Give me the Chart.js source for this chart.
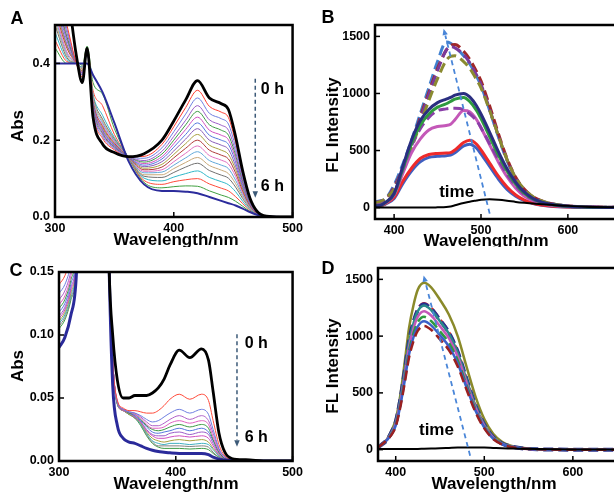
<!DOCTYPE html>
<html>
<head>
<meta charset="utf-8">
<script src="https://cdn.jsdelivr.net/npm/chart.js@4.4.0/dist/chart.umd.min.js"></script>
<style>
  body { margin: 0; width: 614px; height: 494px; overflow: hidden; background: #fff; position: relative; }
  canvas { position: absolute; }
</style>
</head>
<body>
<canvas id="chartA" width="307" height="247" style="left:0;top:0"></canvas>
<canvas id="chartB" width="330" height="247" style="left:307px;top:0"></canvas>
<canvas id="chartC" width="307" height="247" style="left:0;top:247px"></canvas>
<canvas id="chartD" width="330" height="247" style="left:307px;top:247px"></canvas>
<script>
const FONT = '"Liberation Sans", Arial, sans-serif';

// ---- Panel A : absorption, 0 h -> 6 h ----
const wlA = [300, 310, 318, 323, 327, 332, 340, 350, 362, 375, 390, 400, 410, 420, 430, 440, 446, 452, 458, 464, 470, 478, 490, 500];
const absA0h = [0.75, 0.6, 0.42, 0.35, 0.44, 0.26, 0.19, 0.168, 0.157, 0.165, 0.20, 0.25, 0.305, 0.355, 0.31, 0.295, 0.28, 0.21, 0.12, 0.05, 0.015, 0.002, 0, 0];
const absA6h = [0.40, 0.40, 0.40, 0.40, 0.40, 0.37, 0.325, 0.245, 0.145, 0.085, 0.068, 0.068, 0.066, 0.062, 0.052, 0.042, 0.036, 0.030, 0.022, 0.013, 0.006, 0.002, 0, 0];
const absAMid = [
    [0.62, 0.50, 0.40, 0.365, 0.435, 0.27, 0.205, 0.175, 0.157, 0.158, 0.189, 0.235, 0.285, 0.33, 0.288, 0.273, 0.259, 0.195, 0.112, 0.047, 0.014, 0.002, 0, 0],
    [0.61, 0.49, 0.40, 0.37, 0.43, 0.275, 0.21, 0.178, 0.157, 0.153, 0.180, 0.222, 0.268, 0.31, 0.270, 0.256, 0.242, 0.182, 0.105, 0.044, 0.014, 0.002, 0, 0],
    [0.60, 0.48, 0.40, 0.37, 0.43, 0.28, 0.215, 0.18, 0.157, 0.147, 0.171, 0.210, 0.252, 0.29, 0.253, 0.239, 0.226, 0.170, 0.098, 0.042, 0.013, 0.002, 0, 0],
    [0.59, 0.47, 0.40, 0.37, 0.43, 0.285, 0.218, 0.182, 0.157, 0.143, 0.164, 0.200, 0.240, 0.275, 0.240, 0.226, 0.213, 0.161, 0.093, 0.040, 0.013, 0.002, 0, 0],
    [0.58, 0.465, 0.40, 0.375, 0.43, 0.29, 0.222, 0.184, 0.157, 0.139, 0.157, 0.191, 0.228, 0.26, 0.226, 0.213, 0.201, 0.152, 0.088, 0.038, 0.012, 0.002, 0, 0],
    [0.57, 0.46, 0.40, 0.375, 0.43, 0.29, 0.225, 0.186, 0.156, 0.135, 0.151, 0.182, 0.215, 0.245, 0.213, 0.200, 0.189, 0.143, 0.083, 0.036, 0.012, 0.002, 0, 0],
    [0.56, 0.45, 0.40, 0.375, 0.43, 0.295, 0.228, 0.188, 0.156, 0.131, 0.144, 0.172, 0.203, 0.23, 0.200, 0.187, 0.176, 0.133, 0.078, 0.034, 0.011, 0.002, 0, 0],
    [0.55, 0.445, 0.40, 0.38, 0.43, 0.295, 0.232, 0.19, 0.156, 0.127, 0.137, 0.163, 0.191, 0.215, 0.187, 0.174, 0.163, 0.124, 0.073, 0.032, 0.011, 0.002, 0, 0],
    [0.54, 0.44, 0.40, 0.38, 0.43, 0.30, 0.236, 0.192, 0.156, 0.123, 0.130, 0.154, 0.179, 0.20, 0.174, 0.161, 0.151, 0.115, 0.068, 0.030, 0.010, 0.002, 0, 0],
    [0.53, 0.43, 0.40, 0.38, 0.43, 0.30, 0.24, 0.195, 0.156, 0.119, 0.123, 0.144, 0.166, 0.185, 0.160, 0.148, 0.138, 0.106, 0.063, 0.029, 0.010, 0.002, 0, 0],
    [0.52, 0.425, 0.40, 0.38, 0.43, 0.305, 0.245, 0.198, 0.155, 0.115, 0.117, 0.135, 0.154, 0.17, 0.147, 0.135, 0.126, 0.096, 0.058, 0.027, 0.009, 0.002, 0, 0],
    [0.51, 0.42, 0.40, 0.385, 0.43, 0.31, 0.25, 0.20, 0.155, 0.110, 0.110, 0.126, 0.142, 0.155, 0.134, 0.122, 0.113, 0.087, 0.053, 0.025, 0.009, 0.002, 0, 0],
    [0.50, 0.415, 0.40, 0.385, 0.43, 0.315, 0.255, 0.203, 0.155, 0.106, 0.103, 0.116, 0.130, 0.14, 0.121, 0.109, 0.101, 0.078, 0.048, 0.023, 0.008, 0.002, 0, 0],
    [0.48, 0.41, 0.40, 0.39, 0.435, 0.32, 0.265, 0.207, 0.155, 0.101, 0.094, 0.104, 0.113, 0.12, 0.103, 0.092, 0.084, 0.066, 0.041, 0.020, 0.008, 0.002, 0, 0],
    [0.46, 0.405, 0.40, 0.39, 0.44, 0.33, 0.29, 0.215, 0.154, 0.095, 0.085, 0.092, 0.097, 0.10, 0.086, 0.075, 0.068, 0.053, 0.035, 0.018, 0.007, 0.002, 0, 0],
    [0.44, 0.40, 0.405, 0.395, 0.445, 0.35, 0.32, 0.23, 0.153, 0.090, 0.076, 0.079, 0.081, 0.08, 0.068, 0.057, 0.051, 0.041, 0.028, 0.015, 0.007, 0.002, 0, 0]
];
const colorsAMid = ['#ff3b2f', '#6f7fe0', '#9b5cc8', '#3e9b45', '#d04fc0', '#5577dd', '#8a5cb8', '#a8a040',
                    '#b03a3a', '#e070c0', '#60a8d8', '#c8a878', '#707070', '#30b8c8', '#ff4a3a', '#40a040'];
const ticksAX = [300, 400, 500];
const ticksAY = [0, 0.2, 0.4];

// ---- Panel B : fluorescence ----
const wlB = [378, 385, 390, 400, 410, 420, 430, 440, 450, 460, 465, 470, 480, 487, 495, 500, 510, 520, 530, 540, 550, 560, 570, 580, 600, 620, 660];
const flB0h = [0, 0, 0, 0, 0, 0, 0, 0, 2, 5, 10, 20, 40, 52, 62, 68, 72, 68, 60, 50, 42, 35, 30, 25, 15, 8, 2];
const flBBlue = [10, 15, 30, 80, 210, 320, 400, 440, 450, 455, 460, 480, 540, 556, 520, 470, 360, 250, 160, 100, 60, 35, 20, 12, 5, 2, 0];
const flBRed = [12, 18, 35, 90, 230, 345, 430, 465, 475, 478, 482, 505, 570, 590, 555, 505, 390, 275, 180, 110, 65, 38, 22, 13, 5, 2, 0];
const flBMagenta = [15, 20, 40, 110, 300, 480, 600, 680, 710, 720, 730, 770, 850, 840, 770, 700, 550, 400, 270, 170, 100, 60, 35, 20, 8, 3, 0];
const flBGreen = [15, 22, 45, 120, 340, 560, 720, 820, 880, 910, 930, 950, 965, 930, 850, 780, 620, 460, 320, 205, 125, 75, 45, 27, 10, 4, 0];
const flBNavy = [15, 22, 45, 125, 360, 590, 760, 860, 920, 950, 965, 985, 1000, 970, 890, 820, 660, 490, 340, 220, 135, 80, 48, 30, 12, 5, 0];
const flBPurpleMid = [20, 30, 50, 115, 330, 540, 690, 790, 850, 865, 870, 870, 860, 820, 760, 700, 560, 420, 290, 190, 115, 70, 40, 25, 10, 4, 0];
const flBBlueDash = [50, 60, 75, 200, 380, 590, 820, 1050, 1280, 1450, 1440, 1410, 1330, 1260, 1150, 1070, 850, 620, 410, 250, 150, 90, 55, 35, 15, 6, 2];
const flBRedDash = [40, 55, 70, 180, 350, 560, 790, 1010, 1220, 1380, 1420, 1430, 1370, 1300, 1190, 1110, 890, 650, 430, 265, 160, 95, 58, 36, 15, 6, 2];
const flBPurpleDash = [45, 58, 72, 170, 340, 550, 770, 990, 1200, 1380, 1410, 1400, 1340, 1270, 1160, 1080, 860, 630, 420, 258, 155, 92, 56, 35, 15, 6, 2];
const flBOliveDash = [40, 55, 80, 160, 320, 520, 730, 940, 1130, 1290, 1325, 1330, 1280, 1220, 1120, 1050, 850, 630, 420, 260, 160, 95, 58, 36, 15, 6, 2];
const ticksBX = [400, 500, 600];
const ticksBY = [0, 500, 1000, 1500];

// ---- Panel C : absorption, 0 h -> 6 h ----
const wlC = [300, 305, 310, 315, 320, 340, 343, 346, 350, 355, 360, 365, 370, 375, 380, 385, 390, 395, 403, 412, 422, 428, 432, 437, 442, 448, 460, 480, 500];
const absC0h = [0.16, 0.17, 0.19, 0.22, 0.3, 0.3, 0.15, 0.10, 0.064, 0.050, 0.050, 0.052, 0.052, 0.052, 0.054, 0.058, 0.065, 0.076, 0.088, 0.082, 0.089, 0.08, 0.055, 0.022, 0.007, 0.002, 0.001, 0, 0];
const absC6h = [0.09, 0.098, 0.115, 0.15, 0.3, 0.3, 0.15, 0.06, 0.028, 0.018, 0.015, 0.014, 0.012, 0.010, 0.0085, 0.0075, 0.007, 0.0065, 0.006, 0.006, 0.006, 0.005, 0.003, 0.0015, 0.0008, 0.0003, 0, 0, 0];
const absCMid = [
    [0.14, 0.147, 0.162, 0.19, 0.3, 0.3, 0.16, 0.08, 0.048, 0.042, 0.040, 0.040, 0.039, 0.038, 0.038, 0.040, 0.044, 0.049, 0.053, 0.049, 0.053, 0.048, 0.032, 0.013, 0.004, 0.001, 0, 0, 0],
    [0.133, 0.14, 0.155, 0.183, 0.3, 0.3, 0.16, 0.08, 0.047, 0.041, 0.039, 0.038, 0.036, 0.033, 0.031, 0.032, 0.035, 0.038, 0.041, 0.038, 0.041, 0.037, 0.025, 0.010, 0.003, 0.001, 0, 0, 0],
    [0.128, 0.135, 0.15, 0.178, 0.3, 0.3, 0.16, 0.08, 0.047, 0.041, 0.039, 0.038, 0.035, 0.031, 0.028, 0.028, 0.030, 0.033, 0.036, 0.033, 0.036, 0.032, 0.022, 0.009, 0.003, 0.001, 0, 0, 0],
    [0.124, 0.131, 0.146, 0.174, 0.3, 0.3, 0.16, 0.08, 0.047, 0.041, 0.039, 0.037, 0.034, 0.029, 0.026, 0.026, 0.027, 0.030, 0.032, 0.030, 0.032, 0.029, 0.019, 0.008, 0.003, 0.001, 0, 0, 0],
    [0.121, 0.128, 0.143, 0.171, 0.3, 0.3, 0.16, 0.08, 0.046, 0.041, 0.038, 0.037, 0.033, 0.028, 0.025, 0.024, 0.025, 0.027, 0.029, 0.027, 0.029, 0.026, 0.017, 0.007, 0.002, 0.001, 0, 0, 0],
    [0.118, 0.125, 0.14, 0.168, 0.3, 0.3, 0.16, 0.08, 0.046, 0.041, 0.038, 0.036, 0.032, 0.027, 0.023, 0.022, 0.023, 0.024, 0.026, 0.024, 0.026, 0.023, 0.016, 0.007, 0.002, 0.001, 0, 0, 0],
    [0.115, 0.122, 0.137, 0.165, 0.3, 0.3, 0.16, 0.08, 0.046, 0.041, 0.038, 0.036, 0.031, 0.025, 0.021, 0.020, 0.020, 0.022, 0.023, 0.021, 0.023, 0.021, 0.014, 0.006, 0.002, 0.001, 0, 0, 0],
    [0.113, 0.12, 0.135, 0.163, 0.3, 0.3, 0.16, 0.08, 0.046, 0.040, 0.038, 0.035, 0.031, 0.024, 0.020, 0.018, 0.018, 0.019, 0.020, 0.019, 0.020, 0.018, 0.012, 0.005, 0.002, 0.001, 0, 0, 0],
    [0.111, 0.118, 0.133, 0.161, 0.3, 0.3, 0.16, 0.08, 0.045, 0.040, 0.037, 0.035, 0.030, 0.023, 0.018, 0.016, 0.015, 0.016, 0.017, 0.016, 0.017, 0.015, 0.010, 0.005, 0.001, 0.001, 0, 0, 0],
    [0.109, 0.116, 0.131, 0.159, 0.3, 0.3, 0.16, 0.08, 0.045, 0.040, 0.037, 0.035, 0.029, 0.022, 0.016, 0.014, 0.013, 0.014, 0.014, 0.013, 0.014, 0.013, 0.009, 0.004, 0.001, 0.001, 0, 0, 0],
    [0.107, 0.114, 0.129, 0.157, 0.3, 0.3, 0.16, 0.08, 0.045, 0.040, 0.037, 0.034, 0.029, 0.021, 0.015, 0.012, 0.012, 0.012, 0.012, 0.0115, 0.012, 0.011, 0.007, 0.003, 0.001, 0.0005, 0, 0, 0],
    [0.105, 0.112, 0.127, 0.155, 0.3, 0.3, 0.16, 0.08, 0.045, 0.040, 0.037, 0.034, 0.028, 0.020, 0.014, 0.011, 0.010, 0.010, 0.010, 0.0095, 0.010, 0.009, 0.006, 0.003, 0.001, 0.0005, 0, 0, 0]
];
const colorsCMid = ['#ff4a3a', '#6f7fe0', '#b060c8', '#e060c0', '#3e9b45', '#5577dd', '#9b5cc8', '#d04fc0',
                    '#a8a040', '#40b0c0', '#808080', '#3e9b45'];
const ticksCX = [300, 400, 500];
const ticksCY = [0, 0.05, 0.10, 0.15];

// ---- Panel D : fluorescence ----
const wlD = [380, 385, 390, 395, 400, 405, 410, 415, 420, 425, 432, 440, 450, 460, 470, 480, 490, 500, 510, 520, 530, 540, 560, 600, 660];
const flD0h = [5, 5, 5, 5, 5, 5, 5, 5, 5, 6, 8, 10, 12, 15, 18, 20, 20, 18, 15, 12, 10, 8, 5, 2, 0];
const flDOlive = [20, 50, 90, 165, 265, 470, 760, 1070, 1270, 1410, 1470, 1430, 1320, 1190, 1000, 730, 470, 270, 140, 70, 35, 18, 4, 0, 0];
const flDRedDash = [20, 50, 85, 151, 242, 433, 685, 958, 1129, 1240, 1290, 1250, 1149, 1038, 867, 625, 393, 222, 111, 55, 28, 14, 3, 0, 0];
const flDNavyDash = [20, 50, 85, 150, 240, 430, 680, 950, 1120, 1230, 1280, 1240, 1140, 1030, 860, 620, 390, 220, 110, 55, 28, 14, 3, 0, 0];
const flDTeal = [20, 50, 85, 149, 238, 427, 675, 942, 1111, 1220, 1270, 1230, 1131, 1022, 853, 615, 387, 218, 109, 55, 28, 14, 3, 0, 0];
const flDMagenta = [20, 50, 85, 143, 229, 410, 648, 905, 1067, 1172, 1220, 1182, 1086, 982, 820, 591, 372, 210, 105, 52, 27, 13, 3, 0, 0];
const flDGreenDash = [20, 50, 85, 137, 219, 393, 622, 868, 1024, 1124, 1170, 1133, 1042, 941, 786, 567, 356, 201, 101, 50, 26, 13, 3, 0, 0];
const flDBlue = [20, 50, 85, 132, 212, 380, 600, 839, 989, 1086, 1130, 1095, 1007, 909, 759, 547, 344, 194, 97, 49, 25, 12, 3, 0, 0];
const flDDarkRedDash = [20, 50, 85, 128, 204, 366, 579, 809, 954, 1048, 1090, 1056, 971, 877, 733, 528, 332, 187, 94, 47, 24, 12, 3, 0, 0];
const ticksDX = [400, 500, 600];
const ticksDY = [0, 500, 1000, 1500];

// Construit un jeu de données ligne à partir de deux tableaux
function curve(xs, ys, color, width, dash) {
    return {
        data: xs.map((x, i) => ({ x: x, y: ys[i] })),
        borderColor: color,
        borderWidth: width,
        borderDash: dash || [],
        pointRadius: 0,
        fill: false,
        cubicInterpolationMode: 'monotone'
    };
}

function drawArrow(ctx, x0, y0, x1, y1, color, width, dash) {
    const ang = Math.atan2(y1 - y0, x1 - x0);
    const head = 7;
    ctx.strokeStyle = color;
    ctx.fillStyle = color;
    ctx.lineWidth = width;
    ctx.setLineDash(dash);
    ctx.beginPath();
    ctx.moveTo(x0, y0);
    ctx.lineTo(x1 - head * Math.cos(ang), y1 - head * Math.sin(ang));
    ctx.stroke();
    ctx.setLineDash([]);
    ctx.beginPath();
    ctx.moveTo(x1, y1);
    ctx.lineTo(x1 - head * Math.cos(ang - 0.4), y1 - head * Math.sin(ang - 0.4));
    ctx.lineTo(x1 - head * Math.cos(ang + 0.4), y1 - head * Math.sin(ang + 0.4));
    ctx.closePath();
    ctx.fill();
}

// Cadre, graduations internes, flèche, textes
const decorPlugin = {
    id: 'decor',
    afterDatasetsDraw(chart, args, o) {
        const { ctx, chartArea: a, scales: { x, y } } = chart;
        ctx.save();
        ctx.strokeStyle = '#000';
        ctx.lineWidth = 1.5;
        x.ticks.forEach(t => {
            const px = x.getPixelForValue(t.value);
            ctx.beginPath(); ctx.moveTo(px, a.bottom); ctx.lineTo(px, a.bottom - 5); ctx.stroke();
        });
        y.ticks.forEach(t => {
            const py = y.getPixelForValue(t.value);
            ctx.beginPath(); ctx.moveTo(a.left, py); ctx.lineTo(a.left + 5, py); ctx.stroke();
        });
        ctx.lineWidth = 2.5;
        ctx.strokeRect(a.left, a.top, a.right - a.left, a.bottom - a.top);

        if (o.arrow) {
            const ar = o.arrow;
            drawArrow(ctx, x.getPixelForValue(ar.from[0]), y.getPixelForValue(ar.from[1]),
                x.getPixelForValue(ar.to[0]), y.getPixelForValue(ar.to[1]), ar.color, ar.width, ar.dash);
        }

        ctx.fillStyle = '#000';
        ctx.textBaseline = 'middle';
        (o.notes || []).forEach(n => {
            ctx.font = 'bold ' + n.size + 'px ' + FONT;
            ctx.textAlign = n.align;
            ctx.fillText(n.text, x.getPixelForValue(n.at[0]), y.getPixelForValue(n.at[1]));
        });

        // titres d'axes et lettre du panneau (coordonnées du canvas)
        ctx.textAlign = 'center';
        ctx.font = 'bold 18px ' + FONT;
        ctx.fillText(o.letter[0], o.letter[1], o.letter[2]);
        ctx.font = 'bold 17px ' + FONT;
        ctx.fillText('Wavelength/nm', o.xTitle[0], o.xTitle[1]);
        ctx.translate(o.yTitle[1], o.yTitle[2]);
        ctx.rotate(-Math.PI / 2);
        ctx.fillText(o.yTitle[0], 0, 0);
        ctx.restore();
    }
};

function makeChart(id, p) {
    const tickFont = { family: FONT, size: 12.5, weight: 'bold' };
    new Chart(document.getElementById(id), {
        type: 'line',
        data: { datasets: p.datasets },
        plugins: [decorPlugin],
        options: {
            responsive: false,
            animation: false,
            events: [],
            layout: { padding: p.padding },
            plugins: { legend: { display: false }, tooltip: { enabled: false }, decor: p.decor },
            scales: {
                x: {
                    type: 'linear', min: p.xMin, max: p.xMax,
                    afterBuildTicks: s => { s.ticks = p.xTicks.map(v => ({ value: v })); },
                    afterFit: s => { s.height = p.xHeight; },
                    grid: { display: false, drawTicks: false },
                    border: { display: false },
                    ticks: { font: tickFont, color: '#000', padding: 4, autoSkip: false, maxRotation: 0, callback: v => String(v) }
                },
                y: {
                    type: 'linear', min: p.yMin, max: p.yMax,
                    afterBuildTicks: s => { s.ticks = p.yTicks.map(v => ({ value: v })); },
                    afterFit: s => { s.width = p.yWidth; },
                    grid: { display: false, drawTicks: false },
                    border: { display: false },
                    ticks: { font: tickFont, color: '#000', padding: 5, autoSkip: false, callback: p.yFmt }
                }
            }
        }
    });
}

document.addEventListener('DOMContentLoaded', () => {
    // A
    const dsA = [curve(wlA, absA0h, '#000', 2.8), curve(wlA, absA6h, '#2c2c9c', 2)];
    absAMid.forEach((ys, i) => dsA.push(curve(wlA, ys, colorsAMid[i], 1)));
    makeChart('chartA', {
        datasets: dsA, xMin: 300, xMax: 500, yMin: 0, yMax: 0.5,
        xTicks: ticksAX, yTicks: ticksAY, yFmt: v => v.toFixed(1),
        padding: { left: 0, top: 25, right: 12, bottom: 0 }, yWidth: 55, xHeight: 30,
        decor: {
            letter: ['A', 17, 19], xTitle: [176, 240], yTitle: ['Abs', 18, 126],
            arrow: { from: [468.6, 0.36], to: [468.6, 0.05], color: '#3c5a78', width: 1.5, dash: [4, 3] },
            notes: [{ text: '0 h', at: [473.3, 0.332], size: 16, align: 'left' },
                    { text: '6 h', at: [473.3, 0.078], size: 16, align: 'left' }]
        }
    });

    // B
    const dash = [10, 5];
    const dsB = [
        curve(wlB, flB0h, '#000', 2),
        curve(wlB, flBNavy, '#2a2e80', 3),
        curve(wlB, flBGreen, '#2e9a3e', 3),
        curve(wlB, flBPurpleMid, '#8a3fa8', 3, dash),
        curve(wlB, flBMagenta, '#c458b8', 3),
        curve(wlB, flBRed, '#ee2a2a', 3),
        curve(wlB, flBBlue, '#3f5fc0', 3),
        curve(wlB, flBOliveDash, '#8a8a30', 3, dash),
        curve(wlB, flBPurpleDash, '#7a3a9a', 3, dash),
        curve(wlB, flBRedDash, '#a02828', 3, dash),
        curve(wlB, flBBlueDash, '#4080d0', 3, dash)
    ];
    makeChart('chartB', {
        datasets: dsB, xMin: 378, xMax: 660, yMin: -100, yMax: 1600,
        xTicks: ticksBX, yTicks: ticksBY, yFmt: v => String(v),
        padding: { left: 0, top: 25, right: 17, bottom: 0 }, yWidth: 68, xHeight: 28,
        decor: {
            letter: ['B', 21, 18], xTitle: [179, 241], yTitle: ['FL Intensity', 26, 125],
            arrow: { from: [510, -53], to: [457, 1568], color: '#4a86d8', width: 1.8, dash: [5, 4] },
            notes: [{ text: 'time', at: [472, 132], size: 17, align: 'center' }]
        }
    });

    // C
    const dsC = [curve(wlC, absC0h, '#000', 2.8), curve(wlC, absC6h, '#2a2a9a', 3)];
    absCMid.forEach((ys, i) => dsC.push(curve(wlC, ys, colorsCMid[i], 1)));
    makeChart('chartC', {
        datasets: dsC, xMin: 300, xMax: 500, yMin: 0, yMax: 0.15,
        xTicks: ticksCX, yTicks: ticksCY, yFmt: v => v.toFixed(2),
        padding: { left: 0, top: 25, right: 14, bottom: 0 }, yWidth: 59, xHeight: 33,
        decor: {
            letter: ['C', 16, 24], xTitle: [176, 237], yTitle: ['Abs', 18, 119],
            arrow: { from: [452.4, 0.1006], to: [452.4, 0.0114], color: '#3c5a78', width: 1.5, dash: [4, 3] },
            notes: [{ text: '0 h', at: [459, 0.093], size: 16, align: 'left' },
                    { text: '6 h', at: [459, 0.0188], size: 16, align: 'left' }]
        }
    });

    // D
    const dsD = [
        curve(wlD, flD0h, '#000', 2),
        curve(wlD, flDDarkRedDash, '#9a2020', 2.5, dash),
        curve(wlD, flDBlue, '#3a60c8', 2.5),
        curve(wlD, flDGreenDash, '#2e9a3e', 2.5, dash),
        curve(wlD, flDMagenta, '#c458b8', 2.5),
        curve(wlD, flDTeal, '#2a8a8a', 2.5),
        curve(wlD, flDNavyDash, '#2a3090', 4, dash),
        curve(wlD, flDRedDash, '#e02020', 2.5, dash),
        curve(wlD, flDOlive, '#8a8a2a', 2.5)
    ];
    makeChart('chartD', {
        datasets: dsD, xMin: 380, xMax: 660, yMin: -100, yMax: 1600,
        xTicks: ticksDX, yTicks: ticksDY, yFmt: v => String(v),
        padding: { left: 0, top: 21, right: 11, bottom: 0 }, yWidth: 71, xHeight: 33,
        decor: {
            letter: ['D', 21, 22], xTitle: [187, 237], yTitle: ['FL Intensity', 26, 119],
            arrow: { from: [484, -53], to: [431.5, 1535], color: '#4a86d8', width: 1.8, dash: [5, 4] },
            notes: [{ text: 'time', at: [446, 168], size: 17, align: 'center' }]
        }
    });
});
</script>
</body>
</html>
